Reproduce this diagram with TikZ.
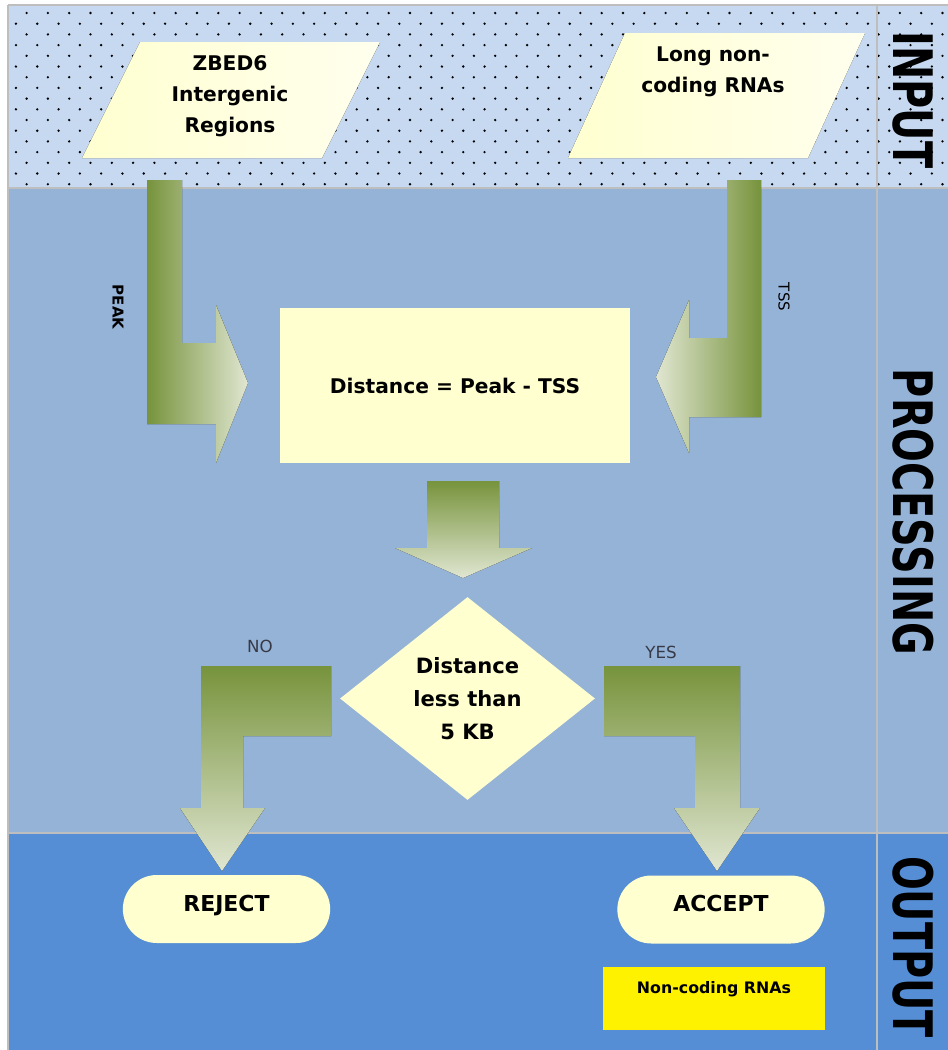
\documentclass[tikz,border=0pt]{standalone}
\usepackage{fontspec}
\setmainfont{DejaVu Sans}
\newfontfamily\bandfont[FakeStretch=0.73]{DejaVu Sans}
\usetikzlibrary{shapes.geometric,shapes.misc}

\definecolor{inbg}{RGB}{198,217,241}
\definecolor{procbg}{RGB}{149,179,215}
\definecolor{outbg}{RGB}{85,142,213}
\definecolor{boxfill}{RGB}{255,255,208}
\definecolor{boxpale}{RGB}{255,255,238}
\definecolor{arrdark}{RGB}{119,147,60}
\definecolor{arrlight}{RGB}{224,230,209}
\definecolor{rulegray}{RGB}{190,190,190}
\definecolor{notegray}{RGB}{55,58,70}

\begin{document}
\begin{tikzpicture}[
    x=0.2mm, y=0.2mm,
    datain/.style={left color=boxfill, right color=boxpale},
    intext/.style={align=center, font=\bfseries\fontsize{11.5}{17.6}\selectfont},
    procbox/.style={rectangle, fill=boxfill, minimum width=70mm, minimum height=31mm, font=\bfseries\fontsize{11.5}{14}\selectfont},
    decision/.style={diamond, fill=boxfill, inner sep=0pt, minimum width=51mm, minimum height=40.6mm, align=center, font=\bfseries\fontsize{12}{18.8}\selectfont},
    terminal/.style={rounded rectangle, fill=boxfill, minimum width=43.8mm, minimum height=13.6mm, text height=9.5pt, text depth=7pt, font=\bfseries\fontsize{12.5}{15}\selectfont},
    band/.style={rotate=-90, font=\bandfont\bfseries\fontsize{31}{31}\selectfont},
    flowlbl/.style={rotate=-90, font=\bfseries\fontsize{8.5}{10}\selectfont},
    choice/.style={text=notegray, font=\fontsize{9.5}{11}\selectfont},
    vshade/.style={top color=arrdark, bottom color=arrlight}
]
\useasboundingbox (0,0) rectangle (948,-1050);
\fill[white] (0,0) rectangle (948,-1050);

% bands
\fill[inbg] (8,-5) rectangle (948,-188);
\fill[procbg] (8,-188) rectangle (948,-833);
\fill[outbg] (8,-833) rectangle (948,-1050);
\begin{scope}
  \clip (10,-7) rectangle (948,-186);
  \foreach \r in {0,...,16}
    \foreach \c in {0,...,44}
      \fill ({5.3+21.3*\c+10.65*mod(\r,2)},{-13-10.7*\r}) circle (1.3);
\end{scope}
\draw[rulegray, line width=0.4mm] (8,-5) -- (948,-5);
\draw[rulegray, line width=0.4mm] (8,-5) -- (8,-1050);
\draw[rulegray, line width=0.4mm] (8,-188) -- (948,-188);
\draw[rulegray, line width=0.3mm] (8,-833) -- (948,-833);
\draw[rulegray, line width=0.3mm] (877,-5) -- (877,-1050);

% input parallelograms
\fill[datain] (82,-158) -- (140,-42) -- (380,-42) -- (322,-158) -- cycle;
\fill[datain] (568,-158) -- (625,-33) -- (865,-33) -- (808,-158) -- cycle;

% block arrows
\fill[left color=arrdark, right color=arrlight] (147,-180) -- (182,-180) -- (182,-343) -- (216,-343) -- (216,-305) -- (248,-383) -- (216,-463) -- (216,-424) -- (147,-424) -- cycle;
\fill[left color=arrlight, right color=arrdark] (727,-180) -- (761,-180) -- (761,-417) -- (689,-417) -- (689,-453) -- (656,-377) -- (689,-300) -- (689,-338) -- (727,-338) -- cycle;
\fill[vshade] (427,-481) -- (499,-481) -- (499,-548) -- (532,-548) -- (463,-578) -- (395,-548) -- (427,-548) -- cycle;
\fill[vshade] (331,-666) -- (201,-666) -- (201,-808) -- (180,-808) -- (222,-871) -- (265,-808) -- (243,-808) -- (243,-736) -- (331,-736) -- cycle;
\fill[vshade] (604,-666) -- (740,-666) -- (740,-808) -- (760,-808) -- (717,-871) -- (674,-808) -- (695,-808) -- (695,-736) -- (604,-736) -- cycle;

% nodes
\node[intext] (zbed) at (230,-96.5) {ZBED6\\Intergenic\\Regions};
\node[intext] (lnc) at (713,-71.5) {Long non-\\coding RNAs};

\node[procbox] (dist) at (455,-385.5) {Distance = Peak - TSS};
\node[decision] (test) at (467.5,-698.5) {Distance\\less than\\5 KB};
\node[terminal] (reject) at (226.5,-909) {REJECT};
\node[terminal] (accept) at (721,-909.5) {ACCEPT};
\node[rectangle, fill=yellow, minimum width=44.4mm, minimum height=12.6mm, text depth=13pt, font=\bfseries\fontsize{9}{11}\selectfont] (ncrna) at (714,-998.5) {Non-coding RNAs};

\node[flowlbl] (peak) at (118,-307) {PEAK};
\node[flowlbl, font=\fontsize{8.5}{10}\selectfont] (tss) at (784,-297) {TSS};
\node[choice] (no) at (260,-646) {NO};
\node[choice] (yes) at (661,-652) {YES};

\node[band] (inlbl) at (913,-100) {INPUT};
\node[band] (proclbl) at (913,-512) {PROCESSING};
\node[band] (outlbl) at (913,-947) {OUTPUT};
\end{tikzpicture}
\end{document}
